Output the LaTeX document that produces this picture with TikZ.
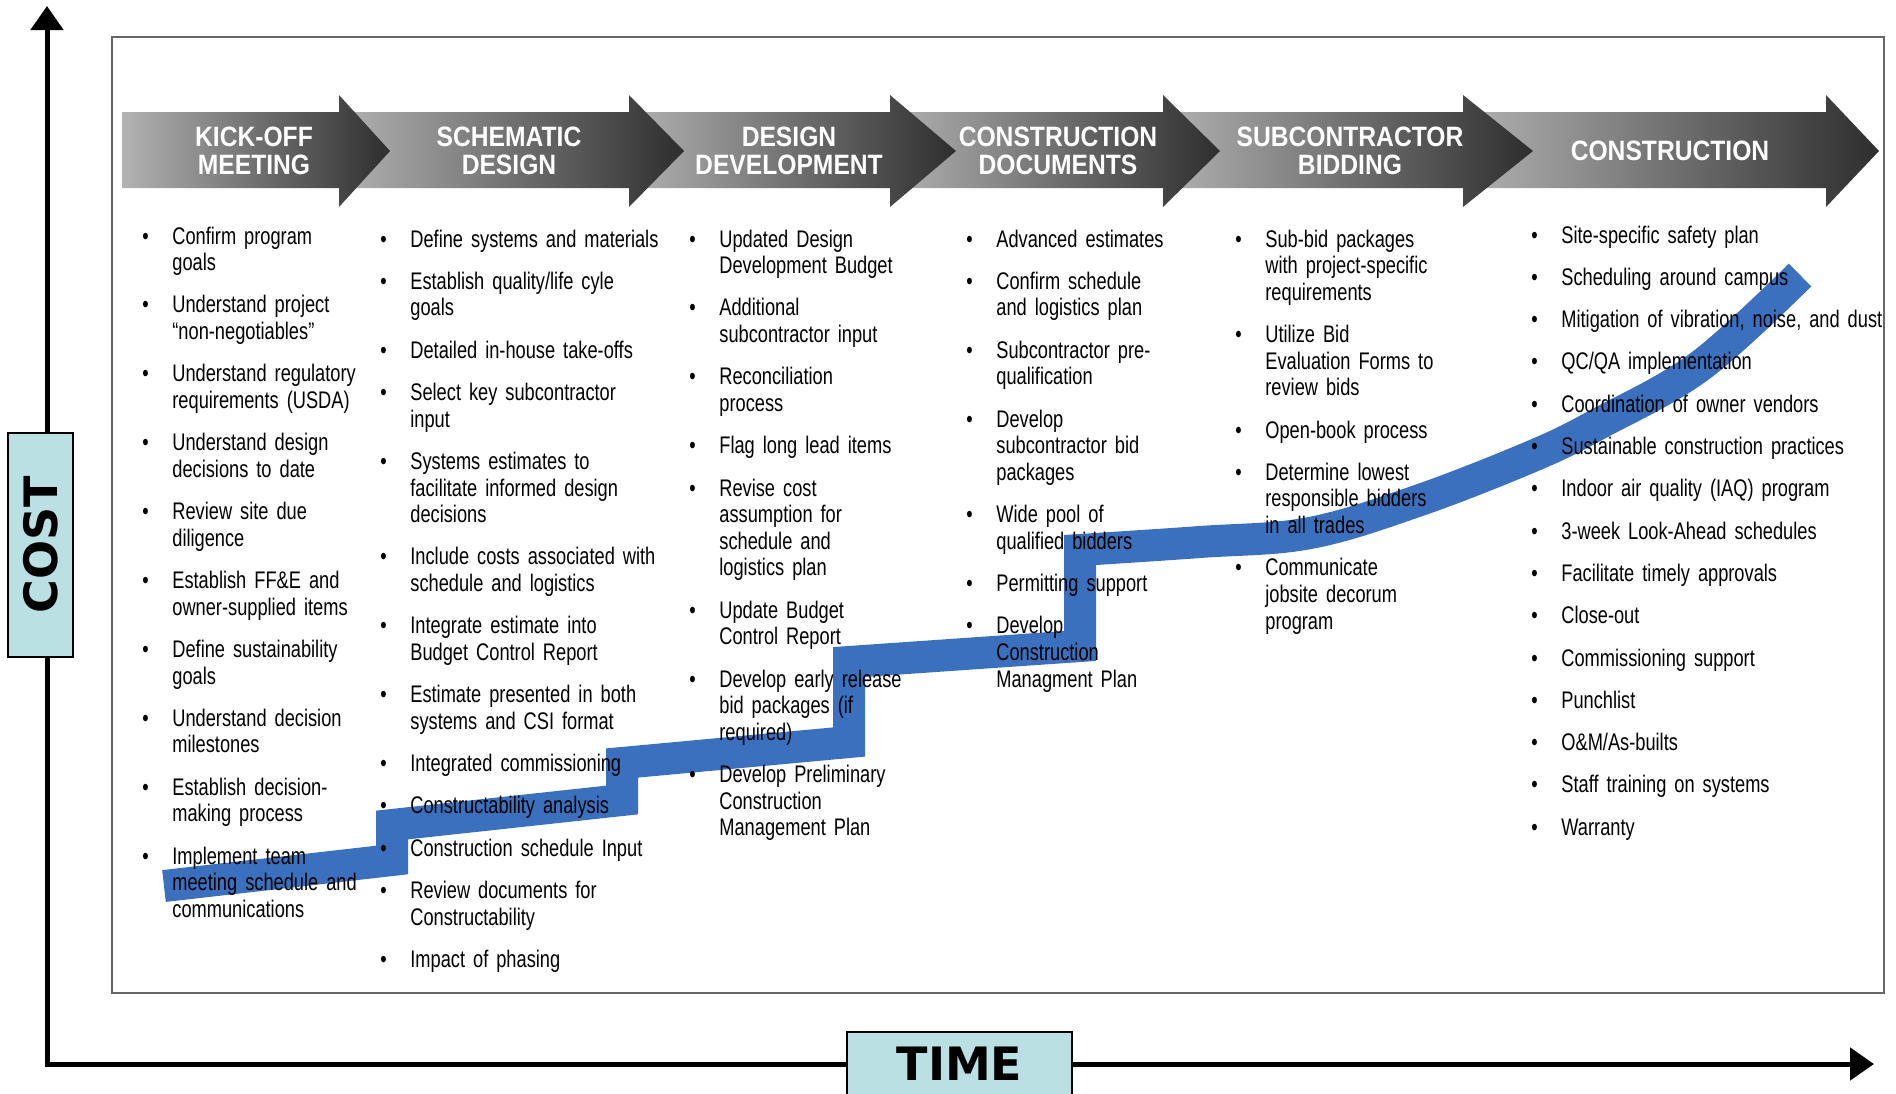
\documentclass[tikz,border=0pt]{standalone}
\usepackage{fontspec}
\setmainfont{Liberation Sans}
\newfontfamily\bodyfont[FakeStretch=0.76]{Liberation Sans}
\newfontfamily\headfont[FakeStretch=0.88]{Liberation Sans}
\newfontfamily\axisfont{DejaVu Sans}
\usetikzlibrary{arrows.meta}
\definecolor{costblue}{RGB}{186,224,228}
\definecolor{stairblue}{RGB}{58,112,190}
\newcommand{\bitem}[1]{\noindent\hangindent=15pt\hangafter=1\makebox[15pt][l]{\textbullet}\strut#1\par\vspace{7.85pt}}

\begin{document}
\begin{tikzpicture}[x=0.5pt,y=-0.5pt,
    axisline/.style={line width=2.5pt,line join=miter,{Triangle[length=12pt,width=16pt]}-{Triangle[length=12pt,width=16pt]}},
    labelbox/.style={draw,line width=1pt,fill=costblue,inner sep=0pt,font=\axisfont\bfseries\fontsize{23}{23}\selectfont},
    headtext/.style={text=white,align=center,font=\headfont\bfseries\fontsize{14}{13.9}\selectfont},
    itemcol/.style={anchor=north west,inner sep=0pt,text width=185pt,align=left,font=\bodyfont\fontsize{12}{13.3}\selectfont}]
\useasboundingbox (0,0) rectangle (1896,1093);

% axes
\coordinate (costtip) at (47,6);
\coordinate (origin) at (47,1064);
\coordinate (timetip) at (1874,1064);
\draw[axisline] (costtip) -- (origin) -- (timetip);
\node[labelbox,rotate=90,minimum width=112pt,minimum height=32.5pt] (cost) at (40.5,545) {COST};
\node[labelbox,minimum width=112.5pt,minimum height=32pt] (time) at (959.5,1064) {TIME};

% frame
\draw[black!60,line width=1pt] (112,37) rectangle (1884,993);

% phase arrows, last one first so each head lies on the next band
\foreach \xs/\xb/\xt in {1463/1826/1879,1163/1463/1533,890/1163/1220,629/890/956,339/629/684,122/339/390}
    \shade[left color=black!30,right color=black!82] (\xs,112) -- (\xb,112) -- (\xb,95) -- (\xt,151) -- (\xb,207) -- (\xb,188) -- (\xs,188) -- cycle;

% rising cost
\draw[stairblue,line width=16pt,line join=miter] (164,886) -- (392,860) -- (392,825) -- (622,800) -- (622,763) -- (849,742) -- (849,662) -- (1080,646)
    -- plot[smooth,tension=0.6] coordinates {(1080,550) (1200,542) (1310,533) (1420,500) (1535,455) (1600,423) (1700,366) (1800,275)};

% phase titles
\node[headtext] (kickoff) at (254,151) {KICK-OFF\\MEETING};
\node[headtext] (schematic) at (509,151) {SCHEMATIC\\DESIGN};
\node[headtext] (designdev) at (789,151) {DESIGN\\DEVELOPMENT};
\node[headtext] (constrdocs) at (1058,151) {CONSTRUCTION\\DOCUMENTS};
\node[headtext] (bidding) at (1350,151) {SUBCONTRACTOR\\BIDDING};
\node[headtext] (construction) at (1670,151) {CONSTRUCTION};

% task lists
\node[itemcol] (kickofflist) at (142,225) {
    \bitem{Confirm program\newline goals}
    \bitem{Understand project\newline “non-negotiables”}
    \bitem{Understand regulatory\newline requirements (USDA)}
    \bitem{Understand design\newline decisions to date}
    \bitem{Review site due\newline diligence}
    \bitem{Establish FF\&E and\newline owner-supplied items}
    \bitem{Define sustainability\newline goals}
    \bitem{Understand decision\newline milestones}
    \bitem{Establish decision-\newline making process}
    \bitem{Implement team\newline meeting schedule and\newline communications}};
\node[itemcol] (schematiclist) at (380,228) {
    \bitem{Define systems and materials}
    \bitem{Establish quality/life cyle\newline goals}
    \bitem{Detailed in-house take-offs}
    \bitem{Select key subcontractor\newline input}
    \bitem{Systems estimates to\newline facilitate informed design\newline decisions}
    \bitem{Include costs associated with\newline schedule and logistics}
    \bitem{Integrate estimate into\newline Budget Control Report}
    \bitem{Estimate presented in both\newline systems and CSI format}
    \bitem{Integrated commissioning}
    \bitem{Constructability analysis}
    \bitem{Construction schedule Input}
    \bitem{Review documents for\newline Constructability}
    \bitem{Impact of phasing}};
\node[itemcol] (designdevlist) at (689,228) {
    \bitem{Updated Design\newline Development Budget}
    \bitem{Additional\newline subcontractor input}
    \bitem{Reconciliation\newline process}
    \bitem{Flag long lead items}
    \bitem{Revise cost\newline assumption for\newline schedule and\newline logistics plan}
    \bitem{Update Budget\newline Control Report}
    \bitem{Develop early release\newline bid packages (if\newline required)}
    \bitem{Develop Preliminary\newline Construction\newline Management Plan}};
\node[itemcol] (constrdocslist) at (966,228) {
    \bitem{Advanced estimates}
    \bitem{Confirm schedule\newline and logistics plan}
    \bitem{Subcontractor pre-\newline qualification}
    \bitem{Develop\newline subcontractor bid\newline packages}
    \bitem{Wide pool of\newline qualified bidders}
    \bitem{Permitting support}
    \bitem{Develop\newline Construction\newline Managment Plan}};
\node[itemcol] (biddinglist) at (1235,228) {
    \bitem{Sub-bid packages\newline with project-specific\newline requirements}
    \bitem{Utilize Bid\newline Evaluation Forms to\newline review bids}
    \bitem{Open-book process}
    \bitem{Determine lowest\newline responsible bidders\newline in all trades}
    \bitem{Communicate\newline jobsite decorum\newline program}};
\node[itemcol] (constructionlist) at (1531,224) {
    \bitem{Site-specific safety plan}
    \bitem{Scheduling around campus}
    \bitem{Mitigation of vibration, noise, and dust}
    \bitem{QC/QA implementation}
    \bitem{Coordination of owner vendors}
    \bitem{Sustainable construction practices}
    \bitem{Indoor air quality (IAQ) program}
    \bitem{3-week Look-Ahead schedules}
    \bitem{Facilitate timely approvals}
    \bitem{Close-out}
    \bitem{Commissioning support}
    \bitem{Punchlist}
    \bitem{O\&M/As-builts}
    \bitem{Staff training on systems}
    \bitem{Warranty}};
\end{tikzpicture}
\end{document}
